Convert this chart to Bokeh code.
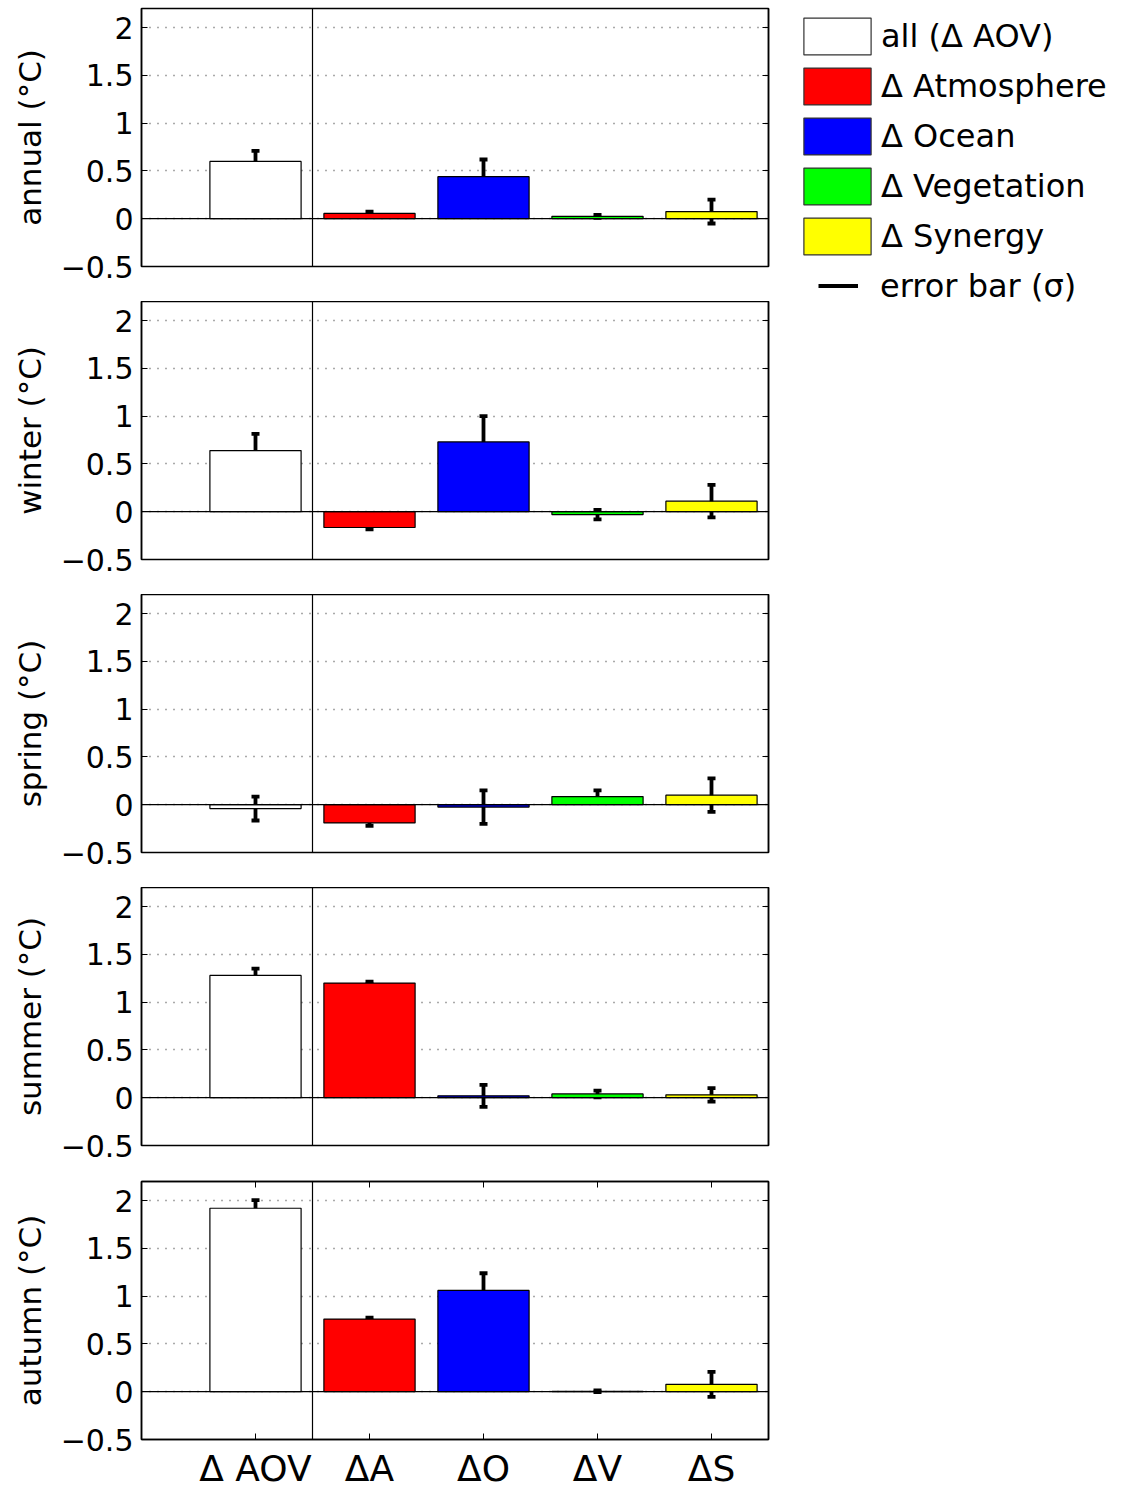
from bokeh.plotting import figure
from bokeh.models import (Range1d, FixedTicker, LinearAxis, Span, Whisker,
                          ColumnDataSource, Legend, LegendItem, TeeHead)
from bokeh.layouts import column, row
from bokeh.embed import file_html
from bokeh.resources import INLINE

# ---------------- data ----------------
seasons = ["annual", "winter", "spring", "summer", "autumn"]
positions = [1, 2, 3, 4, 5]
tick_labels = ["\u0394 AOV", "\u0394A", "\u0394O", "\u0394V", "\u0394S"]
legend_labels = ["all (\u0394 AOV)", "\u0394 Atmosphere", "\u0394 Ocean",
                 "\u0394 Vegetation", "\u0394 Synergy"]
colors = ["#ffffff", "#ff0000", "#0000ff", "#00ff00", "#ffff00"]

annual = [0.60, 0.055, 0.44, 0.025, 0.075]
annual_sigma = [0.11, 0.02, 0.18, 0.015, 0.125]
winter = [0.64, -0.165, 0.73, -0.03, 0.11]
winter_sigma = [0.175, 0.02, 0.27, 0.05, 0.17]
spring = [-0.04, -0.19, -0.025, 0.085, 0.10]
spring_sigma = [0.125, 0.03, 0.175, 0.065, 0.175]
summer = [1.28, 1.20, 0.02, 0.04, 0.03]
summer_sigma = [0.07, 0.015, 0.115, 0.035, 0.07]
autumn = [1.92, 0.76, 1.06, 0.005, 0.077]
autumn_sigma = [0.085, 0.015, 0.18, 0.01, 0.13]

values = [annual, winter, spring, summer, autumn]
sigmas = [annual_sigma, winter_sigma, spring_sigma, summer_sigma, autumn_sigma]

y_ticks = [-0.5, 0, 0.5, 1, 1.5, 2]
y_overrides = {-0.5: "\u22120.5", 0: "0", 0.5: "0.5", 1: "1", 1.5: "1.5", 2: "2"}

FONT = "DejaVu Sans"
OFF = 8  # page offset


def ticks_only_axis(ticks):
    return LinearAxis(ticker=FixedTicker(ticks=ticks), major_tick_in=6,
                      major_tick_out=0, minor_tick_line_color=None,
                      major_label_overrides={t: "" for t in ticks},
                      major_label_text_color=None,
                      major_label_text_font_size="1px", major_label_standoff=0,
                      axis_line_color="black", axis_line_width=1.5)


figs = []
for i, (season, vals, sig) in enumerate(zip(seasons, values, sigmas)):
    first = (i == 0)
    last = (i == len(seasons) - 1)
    kw = {}
    if not last:
        kw["x_axis_type"] = None
    p = figure(frame_width=627, frame_height=258,
               x_range=Range1d(0, 5.5), y_range=Range1d(-0.5, 2.2),
               output_backend="svg", toolbar_location=None,
               min_border_left=133 + OFF, min_border_right=10,
               min_border_top=(OFF if first else (1 if last else 0)),
               min_border_bottom=(0 if last else 35), **kw)
    p.outline_line_color = "black"
    p.outline_line_width = 1.5
    p.background_fill_color = "white"
    p.border_fill_color = "white"

    src = ColumnDataSource(dict(
        x=positions, top=vals,
        upper=[v + s for v, s in zip(vals, sig)],
        lower=[v - s for v, s in zip(vals, sig)],
        color=colors))

    ya = p.yaxis[0]
    ya.ticker = FixedTicker(ticks=y_ticks)
    ya.major_label_overrides = y_overrides
    ya.major_tick_in = 6
    ya.major_tick_out = 0
    ya.minor_tick_line_color = None
    ya.major_label_standoff = 8
    ya.major_label_text_font = FONT
    ya.major_label_text_font_size = "30px"
    ya.major_label_text_color = "black"
    ya.axis_line_color = "black"
    ya.axis_line_width = 1.5
    ya.axis_label = season + " (\u00b0C)"
    ya.axis_label_text_font = FONT
    ya.axis_label_text_font_size = "31px"
    ya.axis_label_text_font_style = "normal"
    ya.axis_label_text_color = "black"
    ya.axis_label_standoff = 10

    p.add_layout(ticks_only_axis(y_ticks), "right")

    if last:
        xa = p.xaxis[0]
        xa.ticker = FixedTicker(ticks=positions)
        xa.major_label_overrides = {k: v for k, v in zip(positions, tick_labels)}
        xa.major_tick_in = 6
        xa.major_tick_out = 0
        xa.minor_tick_line_color = None
        xa.major_label_standoff = 8
        xa.major_label_text_font = FONT
        xa.major_label_text_font_size = "36px"
        xa.major_label_text_color = "black"
        xa.axis_line_color = "black"
        xa.axis_line_width = 1.5
        p.xgrid.visible = False
        p.add_layout(ticks_only_axis(positions), "above")

    p.ygrid.grid_line_color = "#555555"
    p.ygrid.grid_line_dash = "1 7"
    p.ygrid.grid_line_width = 1.5

    p.vbar(x="x", top="top", bottom=0, width=0.8, fill_color="color",
           line_color="black", line_width=1.2, source=src)

    p.add_layout(Span(location=0, dimension="width", line_color="black", line_width=1.2))
    p.add_layout(Span(location=1.5, dimension="height", line_color="black", line_width=1.2))

    p.add_layout(Whisker(source=src, base="x", upper="upper", lower="lower",
                         line_color="black", line_width=3.8,
                         upper_head=TeeHead(size=8, line_width=3.8, line_color="black"),
                         lower_head=TeeHead(size=8, line_width=3.8, line_color="black")))
    figs.append(p)

# ---------------- legend figure ----------------
LF_H = 330
LF_TOP = 13 + OFF - 8   # glyph box top (page y ~13)
LF_BOT = 10
lf = figure(width=335, height=LF_H, output_backend="svg", toolbar_location=None,
            x_axis_type=None, y_axis_type=None,
            x_range=Range1d(0, 1), y_range=Range1d(0, 1),
            min_border_left=17, min_border_top=LF_TOP, min_border_right=0,
            min_border_bottom=LF_BOT)
lf.outline_line_color = None
lf.grid.visible = False

nan = float("nan")
items = []
for lab, c in zip(legend_labels, colors):
    r = lf.vbar(x=[nan], top=[nan], width=0.5, fill_color=c,
                line_color="#333333", line_width=1.2)
    items.append(LegendItem(label=lab, renderers=[r], index=0))
err = lf.line(x=[nan, nan], y=[nan, nan], line_color="black", line_width=4)

base = dict(margin=0, padding=0, border_line_color=None, background_fill_alpha=0,
            label_text_font=FONT, label_text_font_size="32px",
            label_text_color="black")
leg1 = Legend(items=items, location="top_left", spacing=4, glyph_width=84,
              glyph_height=46, label_height=46, label_standoff=2, **base)
lf.add_layout(leg1)
frame_h = LF_H - LF_TOP - LF_BOT
leg2 = Legend(items=[LegendItem(label="error bar (\u03c3)", renderers=[err])],
              location=(23, frame_h - (304.5 - LF_TOP)), glyph_width=40,
              glyph_height=37, label_height=37, label_standoff=22, **base)
lf.add_layout(leg2)

layout = row(column(*figs), lf)
open("out.html", "w").write(file_html(layout, INLINE))
